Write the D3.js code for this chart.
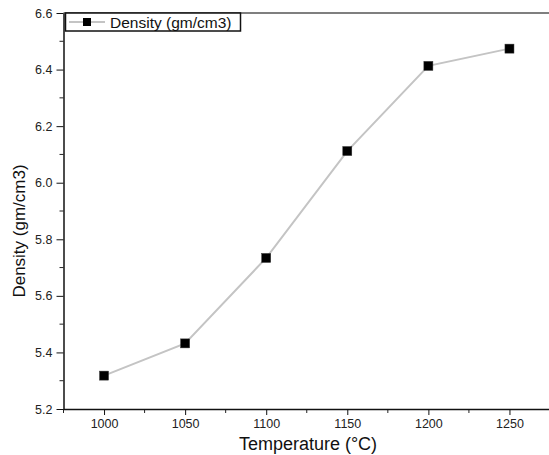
<!DOCTYPE html>
<html><head><meta charset="utf-8">
<script src="https://cdn.jsdelivr.net/npm/d3@7"></script>
<style>body{margin:0;background:#fff}svg{display:block}text{font-family:"Liberation Sans",Arial,sans-serif}</style>
</head><body><svg id="c" width="549" height="455"></svg>
<script>
const temperatures = [1000, 1050, 1100, 1150, 1200, 1250];
const density = [5.318, 5.432, 5.734, 6.112, 6.413, 6.474];
const xTickLabels = [1000, 1050, 1100, 1150, 1200, 1250];
const yTickLabels = [5.2, 5.4, 5.6, 5.8, 6.0, 6.2, 6.4, 6.6];
const seriesName = "Density (gm/cm3)";
const xTitle = "Temperature (°C)";
const yTitle = "Density (gm/cm3)";

const svg = d3.select("#c");
const L = 63.5, R = 550, T = 13, B = 409;
const x = d3.scaleLinear().domain([975, 1275]).range([L, R]);
const y = d3.scaleLinear().domain([5.2, 6.6]).range([B, T]);

// frame top & right
svg.append("line").attr("x1", L).attr("x2", R).attr("y1", T).attr("y2", T).attr("stroke", "#555").attr("stroke-width", 1.5);
svg.append("line").attr("x1", R).attr("x2", R).attr("y1", T).attr("y2", B).attr("stroke", "#555").attr("stroke-width", 1.5);

// minor ticks
const xMinor = d3.range(975, 1276, 25).filter(v => !xTickLabels.includes(v));
svg.append("g").selectAll("line").data(xMinor).join("line")
  .attr("x1", d => x(d)).attr("x2", d => x(d)).attr("y1", B).attr("y2", B + 4)
  .attr("stroke", "#222").attr("stroke-width", 1);
const yMinor = d3.range(0, 7).map(i => 5.3 + i * 0.2);
svg.append("g").selectAll("line").data(yMinor).join("line")
  .attr("x1", L).attr("x2", L - 4).attr("y1", d => y(d)).attr("y2", d => y(d))
  .attr("stroke", "#222").attr("stroke-width", 1);

const xAxis = svg.append("g").attr("transform", `translate(0,${B})`)
  .call(d3.axisBottom(x).tickValues(xTickLabels).tickSize(6).tickPadding(4).tickFormat(d3.format("d")).tickSizeOuter(0));
const yAxis = svg.append("g").attr("transform", `translate(${L},0)`)
  .call(d3.axisLeft(y).tickValues(yTickLabels).tickSize(7).tickPadding(4).tickFormat(d3.format(".1f")).tickSizeOuter(0));
[xAxis, yAxis].forEach(g => {
  g.select(".domain").attr("stroke", "#111").attr("stroke-width", 1.5);
  g.selectAll(".tick line").attr("stroke", "#111").attr("stroke-width", 1);
  g.selectAll(".tick text").attr("fill", "#222").style("font-size", "12.5px").style("font-family", '"Liberation Sans",Arial,sans-serif');
});

// line
const line = d3.line().x((d, i) => x(temperatures[i])).y(d => y(d));
svg.append("path").datum(density).attr("d", line).attr("fill", "none")
  .attr("stroke", "#c4c4c4").attr("stroke-width", 2);
const ms = 9;
svg.append("g").selectAll("rect").data(density).join("rect")
  .attr("x", (d, i) => x(temperatures[i]) - ms / 2).attr("y", d => y(d) - ms / 2)
  .attr("width", ms).attr("height", ms).attr("fill", "#000").attr("stroke", "#333").attr("stroke-width", 0.5);

// legend
const lg = svg.append("g");
lg.append("rect").attr("x", 65.5).attr("y", 13).attr("width", 175).attr("height", 18)
  .attr("fill", "#fff").attr("stroke", "#111").attr("stroke-width", 1.5);
lg.append("line").attr("x1", 69).attr("x2", 105).attr("y1", 22).attr("y2", 22).attr("stroke", "#c4c4c4").attr("stroke-width", 2);
lg.append("rect").attr("x", 87 - 4).attr("y", 22 - 4).attr("width", 8).attr("height", 8).attr("fill", "#000");
lg.append("text").attr("x", 110).attr("y", 27.5).attr("fill", "#111").style("font-size", "15.5px").text(seriesName);

// titles
svg.append("text").attr("x", 308).attr("y", 450).attr("text-anchor", "middle")
  .attr("fill", "#111").style("font-size", "18px").text(xTitle);
svg.append("text").attr("transform", "translate(25,231) rotate(-90)").attr("text-anchor", "middle")
  .attr("fill", "#111").style("font-size", "17px").text(yTitle);
</script></body></html>
